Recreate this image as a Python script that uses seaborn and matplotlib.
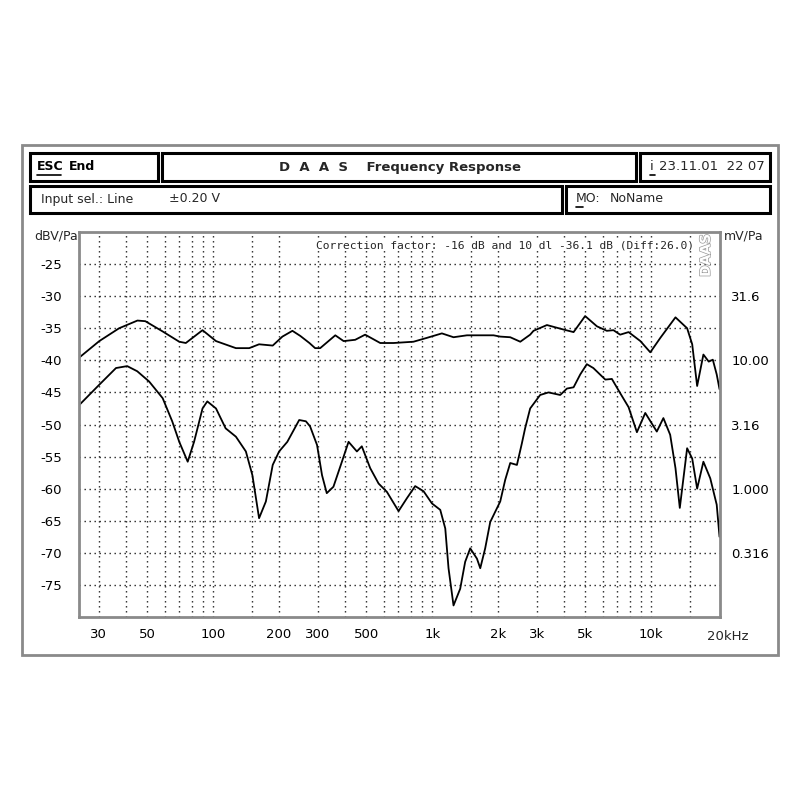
import numpy as np
import pandas as pd
import seaborn as sns
import matplotlib
matplotlib.use("Agg")
import matplotlib.pyplot as plt
from matplotlib.patches import Rectangle
from matplotlib.lines import Line2D
import matplotlib.patheffects as pe

# ---------------- data ----------------
upper_freq = [24.4, 30.2, 37.2, 45.1, 49.0, 58.8, 70, 75, 89.4, 103, 127, 146, 162, 187,
              207, 230, 250, 275, 292, 308, 361, 394, 445, 494, 579, 666, 821, 945, 1107,
              1251, 1441, 1906, 2044, 2271, 2524, 2800, 2900, 3340, 3975, 4420, 4990, 5650,
              6270, 6720, 7210, 7880, 8920, 9900, 11000, 12900, 14580, 15380, 16200, 17300,
              18300, 19100, 19900, 20500]
upper_db = [-39.6, -37.0, -35.0, -33.8, -33.9, -35.5, -37.1, -37.3, -35.3, -37.0, -38.1,
            -38.1, -37.5, -37.7, -36.3, -35.4, -36.2, -37.3, -38.1, -38.1, -36.1, -37.0,
            -36.8, -36.0, -37.3, -37.3, -37.1, -36.5, -35.8, -36.4, -36.1, -36.1, -36.3,
            -36.4, -37.1, -36.0, -35.4, -34.5, -35.2, -35.6, -33.1, -34.7, -35.4, -35.3,
            -36.0, -35.6, -37.0, -38.75, -36.5, -33.3, -35.0, -37.5, -44.0, -39.1, -40.2,
            -39.9, -42.2, -44.5]

lower_freq = [24.4, 30.2, 36, 40.5, 45, 51, 58.8, 65, 70, 76.5, 81.8, 89.4, 94, 103, 114,
              127, 141, 151, 162, 174, 187, 200, 218, 247, 265, 277, 298, 314, 330, 354,
              387, 415, 453, 477, 521, 569, 621, 702, 766, 836, 913, 997, 1088, 1147, 1187,
              1251, 1342, 1414, 1491, 1600, 1657, 1745, 1840, 2044, 2155, 2271, 2436, 2564,
              2655, 2800, 3110, 3395, 3840, 4120, 4420, 4740, 5080, 5440, 6170, 6610, 7210,
              7880, 8600, 9390, 10600, 11360, 12200, 12900, 13500, 14580, 15380, 16200,
              17300, 18600, 19900, 20500]
lower_db = [-47.0, -43.8, -41.2, -40.9, -41.7, -43.3, -45.9, -49.5, -52.7, -55.8, -52.7,
            -47.5, -46.4, -47.5, -50.6, -51.9, -54.2, -57.9, -64.6, -62.0, -56.3, -54.2,
            -52.7, -49.3, -49.5, -50.3, -53.2, -57.9, -60.7, -59.7, -55.8, -52.7, -54.2,
            -53.4, -56.8, -59.2, -60.5, -63.5, -61.5, -59.6, -60.4, -62.3, -63.3, -66.2,
            -72.4, -78.2, -75.6, -71.4, -69.3, -70.9, -72.4, -69.3, -65.2, -62.0, -58.6,
            -56.0, -56.3, -53.0, -50.6, -47.5, -45.4, -45.0, -45.4, -44.4, -44.2, -42.2,
            -40.6, -41.2, -43.0, -42.9, -45.1, -47.3, -51.2, -48.2, -51.1, -49.0, -51.6,
            -56.8, -63.0, -53.7, -55.3, -60.0, -55.8, -58.4, -62.5, -67.5]

x_tick_values = [30, 50, 100, 200, 300, 500, 1000, 2000, 3000, 5000, 10000]
x_tick_labels = ["30", "50", "100", "200", "300", "500", "1k", "2k", "3k", "5k", "10k"]
x_grid_values = [30, 40, 50, 60, 70, 80, 90, 100, 150, 200, 300, 400, 500, 600, 700, 800,
                 900, 1000, 1500, 2000, 3000, 4000, 5000, 6000, 7000, 8000, 9000, 10000, 15000]
y_tick_values = [-25, -30, -35, -40, -45, -50, -55, -60, -65, -70, -75]
right_tick_mv = [31.6, 10.00, 3.16, 1.000, 0.316]
right_tick_labels = ["31.6", "10.00", "3.16", "1.000", "0.316"]

# ---------------- figure ----------------
sns.set_theme(style="white")
plt.rcParams["font.family"] = ["DejaVu Sans"]

W = H = 800
fig = plt.figure(figsize=(8, 8), dpi=100)
fig.patch.set_facecolor("white")


def fx(x):
    return x / W


def fy(y):
    return 1 - y / H


def box(x0, y0, x1, y1, lw=2.2, color="black"):
    fig.add_artist(Rectangle((fx(x0), fy(y1)), fx(x1) - fx(x0), fy(y0) - fy(y1),
                             transform=fig.transFigure, fill=False, lw=lw,
                             edgecolor=color, zorder=5))


def ftext(x, y, s, **kw):
    fig.text(fx(x), fy(y), s, **kw)


def uline(x0, x1, y):
    fig.add_artist(Line2D([fx(x0), fx(x1)], [fy(y), fy(y)], color="black", lw=1.2,
                          transform=fig.transFigure))


# outer frame
box(22, 145, 778, 655, lw=2.0, color="#8a8a8a")
# header boxes
box(30, 153, 158, 181)
box(162, 153, 636, 181)
box(640, 153, 770, 181)
box(30, 186, 562, 213)
box(566, 186, 770, 213)

hdr = dict(fontsize=9.0, va="center", color="black")
ftext(37, 167, "ESC", fontweight="bold", **hdr)
uline(37, 61, 175)
ftext(69, 167, "End", fontweight="bold", **hdr)
ftext(400, 167, "D  A  A  S    Frequency Response", fontweight="bold", ha="center",
      fontsize=9.5, va="center")
ftext(650, 167, "i", fontsize=9.5, va="center")
uline(650, 655, 175)
ftext(659, 167, "23.11.01  22 07", fontsize=9.5, va="center")
ftext(41, 199, "Input sel.: Line", fontsize=9, va="center")
ftext(169, 199, "±0.20 V", fontsize=9, va="center")
ftext(576, 199, "MO:", fontsize=9, va="center")
uline(576, 583, 207)
ftext(610, 199, "NoName", fontsize=9, va="center")

# ---------------- axes ----------------
ax = fig.add_axes([fx(79), fy(617), fx(720) - fx(79), fy(232) - fy(617)])
ax.set_facecolor("white")

sns.lineplot(x=upper_freq, y=upper_db, ax=ax, color="black", lw=1.3, sort=False,
             estimator=None)
sns.lineplot(x=lower_freq, y=lower_db, ax=ax, color="black", lw=1.3, sort=False,
             estimator=None)

ax.set_xscale("log")
ax.set_xlim(24.4, 20600)
ax.set_ylim(-80, -20)

ax.set_xticks(x_tick_values)
ax.set_xticklabels(x_tick_labels)
ax.set_xticks(x_grid_values, minor=True)
ax.xaxis.set_minor_formatter(matplotlib.ticker.NullFormatter())
ax.set_yticks(y_tick_values)
ax.set_yticklabels([f"-{abs(v)}" for v in y_tick_values])

ax.tick_params(axis="both", which="both", length=0, labelsize=9.5, colors="black")
ax.tick_params(axis="x", pad=8)
ax.tick_params(axis="y", pad=12)
ax.set_xlabel("")
ax.set_ylabel("")

grid_style = dict(color="#222222", linestyle=(0, (1, 2.6)), linewidth=1.0)
ax.xaxis.grid(True, which="both", **grid_style)
ax.yaxis.grid(True, which="major", **grid_style)
ax.set_axisbelow(True)

for s in ax.spines.values():
    s.set_color("#8a8a8a")
    s.set_linewidth(2.0)

# right axis (mV/Pa)
ax2 = ax.twinx()
ax2.set_ylim(ax.get_ylim())
ax2.set_yticks([20 * np.log10(v / 1000.0) for v in right_tick_mv])
ax2.set_yticklabels(right_tick_labels)
ax2.tick_params(axis="y", length=0, labelsize=9.5, pad=8, colors="black")
ax2.grid(False)
for s in ax2.spines.values():
    s.set_visible(False)

# 20kHz label
ax.annotate("20kHz", xy=(20000, -80), xycoords="data", xytext=(-7, -9),
            textcoords="offset points", ha="left", va="top", fontsize=9.5)

# unit labels
ftext(34, 236, "dBV/Pa", fontsize=9, va="center")
ftext(724, 236, "mV/Pa", fontsize=9, va="center")

# correction text
ax.text(0.370, 0.966, "Correction factor: -16 dB and 10 dl -36.1 dB (Diff:26.0)",
        transform=ax.transAxes, fontsize=8.1, family="DejaVu Sans Mono",
        va="center", ha="left",
        bbox=dict(facecolor="white", edgecolor="none", pad=0.5))

# vertical DAAS watermark
ax.text(0.978, 0.995, "DAAS", transform=ax.transAxes, rotation=90, ha="center",
        va="top", fontsize=10, fontweight="bold", color="white",
        path_effects=[pe.withStroke(linewidth=1.0, foreground="#9a9a9a")])

fig.savefig("out.png", dpi=100, facecolor="white")
